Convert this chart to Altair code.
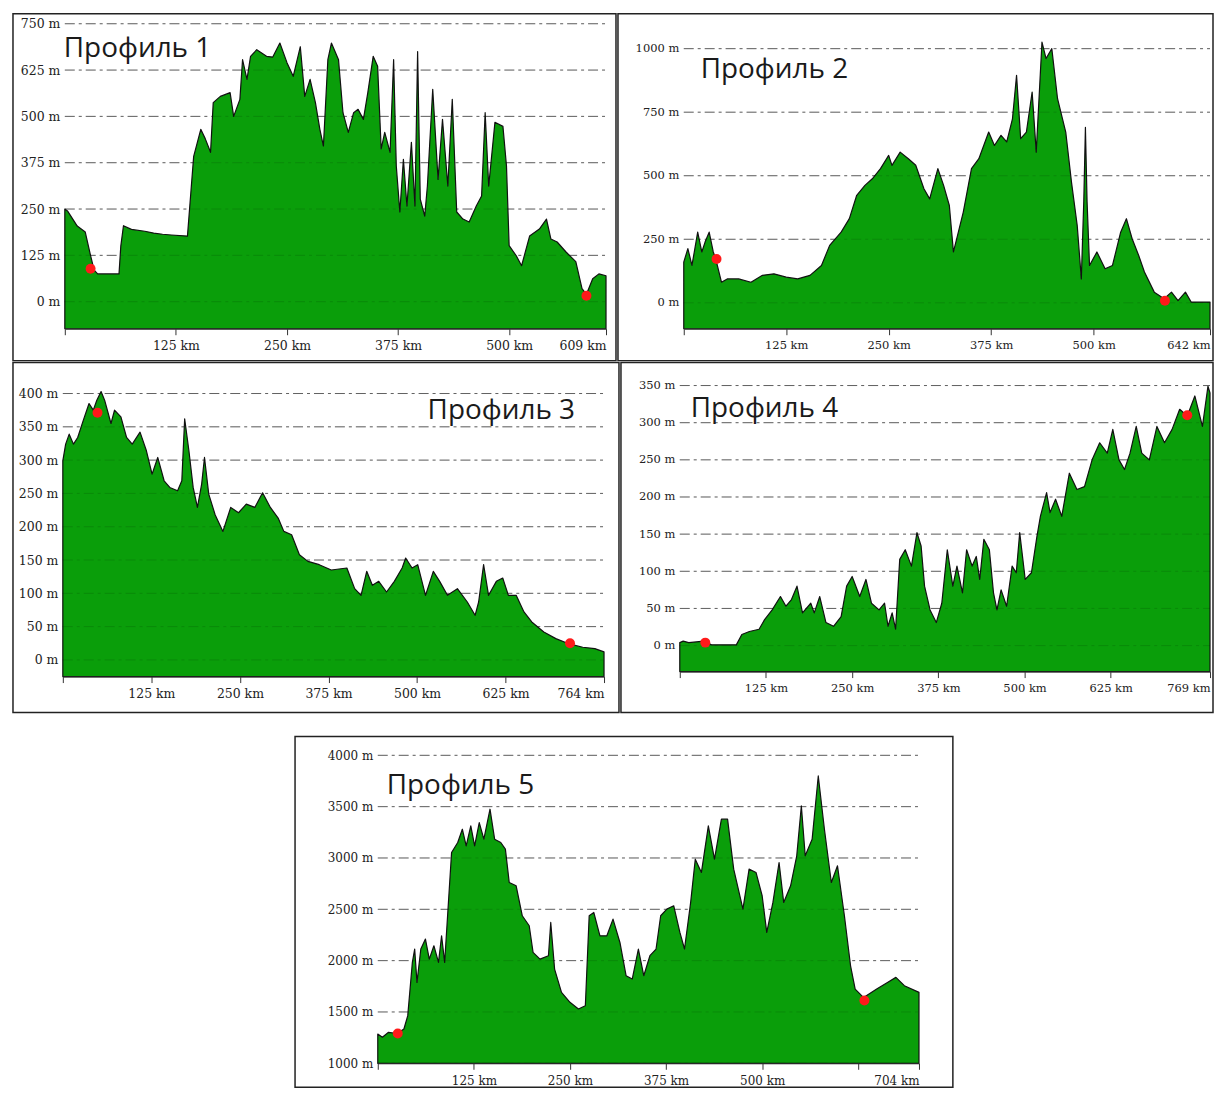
import altair as alt
import pandas as pd

# ---------------- data ----------------
p1_km = [0, 3, 14, 23, 29, 33, 37, 61, 63, 66, 75, 90, 100, 110, 120, 138, 142, 145, 153, 158,
         164, 167, 175, 186, 190, 197, 200, 205, 209, 216, 227, 234, 242, 250, 257, 265, 270, 276,
         282, 287, 291, 296, 300, 308, 313, 319, 325, 330, 336, 341, 347, 352, 356, 360, 366, 370,
         373, 377, 381, 385, 390, 394, 397, 400, 405, 408, 414, 420, 425, 431, 436, 441, 448, 455,
         463, 469, 473, 477, 484, 493, 497, 500, 508, 514, 523, 534, 542, 547, 554, 564, 575, 582,
         587, 594, 601, 609]
p1_m = [250, 245, 204, 188, 124, 85, 75, 75, 150, 205, 195, 190, 185, 182, 180, 177, 300, 392, 465, 440,
        403, 537, 554, 564, 500, 546, 653, 600, 662, 680, 662, 660, 698, 645, 608, 688, 554, 600,
        537, 465, 420, 653, 698, 653, 510, 457, 510, 519, 492, 565, 662, 635, 412, 457, 403, 653,
        366, 242, 384, 258, 430, 258, 675, 277, 231, 312, 573, 330, 492, 312, 546, 242, 223, 215,
        258, 285, 510, 312, 484, 473, 366, 151, 124, 97, 177, 196, 223, 169, 161, 134, 108, 35,
        20, 62, 75, 70]
p1_dot_km = [29, 587]
p1_dot_m = [89, 16]

p2_km = [0, 5, 10, 17, 22, 26, 31, 36, 39, 46, 53, 67, 82, 96, 110, 125, 139, 154, 168, 178, 192,
         202, 211, 221, 230, 240, 250, 254, 264, 274, 283, 293, 300, 310, 317, 324, 329, 334, 341,
         351, 360, 372, 379, 387, 394, 401, 406, 411, 418, 425, 430, 437, 442, 449, 456, 466, 473,
         480, 485, 488, 490, 492, 495, 504, 514, 523, 533, 540, 547, 555, 562, 574, 586, 595, 603,
         612, 619, 642]
p2_m = [160, 213, 147, 278, 200, 239, 278, 200, 173, 81, 94, 94, 81, 108, 114, 101, 94, 108, 147, 226, 278,
        331, 423, 462, 488, 528, 580, 541, 593, 567, 541, 449, 409, 528, 462, 383, 200, 265, 357,
        528, 567, 672, 619, 659, 633, 724, 895, 646, 672, 829, 593, 1026, 961, 1000, 803, 672, 475,
        304, 94, 400, 690, 400, 147, 200, 134, 147, 278, 331, 252, 186, 121, 42, 16, 42, 9,
        42, 3, 3]
p2_dot_km = [40, 587]
p2_dot_m = [172, 8]

p3_km = [0, 4, 9, 15, 21, 29, 37, 43, 48, 54, 59, 68, 73, 82, 90, 98, 109, 118, 126, 134, 143, 151,
         162, 168, 172, 178, 184, 190, 196, 200, 206, 215, 226, 237, 248, 259, 271, 282, 293, 304,
         312, 323, 334, 346, 362, 379, 401, 412, 421, 429, 437, 446, 457, 468, 479, 484, 493, 501,
         512, 523, 532, 543, 557, 571, 582, 587, 594, 601, 612, 621, 629, 640, 651, 662, 679, 696,
         715, 734, 751, 764]
p3_m = [299, 324, 339, 324, 334, 360, 385, 375, 390, 403, 390, 355, 375, 365, 334, 324, 342, 314, 279, 304, 269, 259,
        254, 269, 362, 314, 259, 229, 264, 304, 249, 218, 193, 229, 221, 234, 229, 251, 229, 213,
        193, 188, 158, 148, 143, 135, 138, 107, 97, 133, 112, 118, 102, 118, 138, 153, 138, 143,
        97, 133, 118, 97, 107, 87, 67, 87, 143, 97, 118, 123, 97, 97, 72, 57, 42, 32,
        24, 19, 17, 12]
p3_dot_km = [49, 716]
p3_dot_m = [371, 25]

p4_km = [0, 5, 13, 35, 46, 82, 90, 101, 115, 123, 134, 146, 154, 162, 170, 178, 190, 195, 203, 212,
         223, 234, 242, 250, 261, 270, 278, 289, 297, 302, 308, 313, 319, 327, 336, 344, 350, 355,
         363, 372, 380, 388, 396, 402, 410, 416, 424, 430, 435, 441, 449, 455, 460, 466, 474, 482,
         488, 493, 501, 510, 518, 523, 532, 537, 545, 554, 565, 576, 587, 598, 609, 620, 628, 637,
         645, 653, 662, 670, 681, 692, 703, 714, 725, 736, 747, 758, 766, 769]
p4_m = [4, 6, 4, 6, 1, 1, 15, 19, 22, 35, 48, 66, 53, 62, 80, 44, 57, 44, 66, 31,
        26, 39, 80, 93, 66, 89, 57, 48, 57, 26, 44, 22, 116, 129, 107, 152, 134, 80,
        48, 31, 57, 129, 80, 107, 71, 129, 107, 120, 89, 143, 129, 71, 48, 75, 53, 107,
        98, 152, 89, 98, 147, 174, 206, 179, 197, 174, 232, 210, 214, 250, 273, 259, 291, 250,
        237, 259, 295, 259, 250, 295, 273, 291, 318, 309, 336, 295, 349, 340]
p4_dot_km = [37, 736]
p4_dot_m = [4, 310]

p5_km = [0, 6, 14, 25, 34, 39, 45, 48, 51, 56, 62, 67, 73, 79, 83, 87, 96, 104, 110, 115, 121, 126,
         132, 138, 146, 152, 160, 166, 171, 180, 188, 197, 202, 211, 222, 225, 230, 239, 250, 261,
         270, 275, 281, 289, 298, 306, 315, 323, 331, 339, 346, 354, 362, 368, 376, 385, 393, 399,
         407, 413, 421, 430, 438, 447, 455, 463, 475, 483, 492, 500, 506, 514, 522, 528, 537, 545,
         551, 556, 565, 573, 581, 590, 598, 607, 615, 621, 632, 649, 663, 674, 685, 704]
p5_m = [1285, 1253, 1302, 1290, 1334, 1464, 1983, 2113, 1788, 2113, 2210, 2015, 2145, 1983, 2242, 1983, 3053, 3151, 3280, 3118, 3313, 3118,
        3345, 3183, 3475, 3183, 3151, 3086, 2761, 2729, 2437, 2340, 2080, 2015, 2048, 2372, 1918, 1691, 1594, 1529,
        1561, 2437, 2469, 2242, 2242, 2404, 2177, 1853, 1821, 2113, 1853, 2048, 2113, 2437, 2502, 2534, 2275, 2113,
        2567, 2988, 2859, 3313, 2988, 3378, 3378, 2891, 2502, 2891, 2859, 2632, 2275, 2567, 2956, 2567, 2729, 3021,
        3507, 3021, 3183, 3799, 3280, 2761, 2924, 2437, 1950, 1723, 1640, 1723, 1788, 1837, 1756, 1691]
p5_dot_km = [26, 633]
p5_dot_m = [1291, 1612]

titles = ["Профиль 1", "Профиль 2", "Профиль 3", "Профиль 4", "Профиль 5"]

p1_grid = [0, 125, 250, 375, 500, 625, 750]
p2_grid = [0, 250, 500, 750, 1000]
p3_grid = [0, 50, 100, 150, 200, 250, 300, 350, 400]
p4_grid = [0, 50, 100, 150, 200, 250, 300, 350]
p5_grid = [1000, 1500, 2000, 2500, 3000, 3500, 4000]

p1_xticks = [0, 125, 250, 375, 500, 609]
p2_xticks = [0, 125, 250, 375, 500, 642]
p3_xticks = [0, 125, 250, 375, 500, 625, 764]
p4_xticks = [0, 125, 250, 375, 500, 625, 769]
p5_xticks = [0, 125, 250, 375, 500, 625, 704]

# ---------------- style ----------------
GREEN = "#0a9e0a"
GRID = "#6e6e6e"
DASH = [10, 4, 3, 4]
AXIS_FONT = "DejaVu Serif"
TXT = "#222222"


def panel(km, m, dkm, dm, grid_vals, xticks, hidden, title, box_w, box_h,
          x_range, y_domain, y_range, label_pos, fsize, lpad):
    df = pd.DataFrame({"km": km, "m": m})
    dots = pd.DataFrame({"km": dkm, "m": dm})
    grid = pd.DataFrame({"m": grid_vals, "km": [0] * len(grid_vals),
                         "km_end": [km[-1]] * len(grid_vals)})
    xs = alt.Scale(domain=[0, km[-1]], range=x_range, nice=False, zero=False)
    ys = alt.Scale(domain=y_domain, range=y_range, nice=False, zero=False)
    hid = " || ".join(f"datum.value == {h}" for h in hidden)
    xaxis = alt.Axis(values=xticks, labelExpr=f"({hid}) ? '' : datum.value + ' km'",
                     offset=-(box_h - y_range[0]), grid=False, domainColor="#333333",
                     tickColor="#333333", tickSize=6, labelPadding=lpad, labelFont=AXIS_FONT,
                     labelFontSize=fsize, labelColor=TXT, labelFlush=True, labelOverlap=False,
                     title=None, zindex=1)
    yaxis = alt.Axis(values=grid_vals, labelExpr="datum.value + ' m'", offset=-x_range[0],
                     grid=False, domain=False, ticks=False, labelPadding=5, labelFont=AXIS_FONT,
                     labelFontSize=fsize, labelColor=TXT, labelOverlap=False, title=None)
    X = alt.X("km:Q", scale=xs, axis=xaxis)
    Y = alt.Y("m:Q", scale=ys, axis=yaxis)

    grid_under = alt.Chart(grid).mark_rule(color=GRID, strokeDash=DASH, strokeWidth=1).encode(
        x=X, x2="km_end", y=Y)
    area = alt.Chart(df).mark_area(fill=GREEN, stroke="#111111", strokeWidth=1.2,
                                   strokeJoin="round", opacity=1).encode(
        x=X, y=Y, y2=alt.datum(y_domain[0]))
    grid_over = alt.Chart(grid).mark_rule(color="#000000", strokeDash=DASH, strokeWidth=1,
                                          opacity=0.13).encode(x=X, x2="km_end", y=Y)
    pts = alt.Chart(dots).mark_circle(color="#ff1a1a", size=100, opacity=1).encode(x=X, y=Y)
    lab = alt.Chart(pd.DataFrame({"t": [title]})).mark_text(
        font="Open Sans", fontSize=28, align="left", baseline="alphabetic", color="#1a1a1a").encode(
        x=alt.value(label_pos[0]), y=alt.value(label_pos[1]), text="t:N")
    return alt.layer(grid_under, area, grid_over, pts, lab).properties(width=box_w, height=box_h)


c1 = panel(p1_km, p1_m, p1_dot_km, p1_dot_m, p1_grid, p1_xticks, [0], titles[0], 605, 348,
           [52, 595], [-73, 750], [316, 10], (51, 43), 12.5, 5)
c2 = panel(p2_km, p2_m, p2_dot_km, p2_dot_m, p2_grid, p2_xticks, [0], titles[1], 597, 348,
           [66, 594], [-102, 1000], [316, 35], (83, 64), 11.5, 5)
c3 = panel(p3_km, p3_m, p3_dot_km, p3_dot_m, p3_grid, p3_xticks, [0], titles[2], 608, 351,
           [50, 593], [-25, 400], [315, 31], (416, 57), 12.5, 5)
c4 = panel(p4_km, p4_m, p4_dot_km, p4_dot_m, p4_grid, p4_xticks, [0], titles[3], 594, 351,
           [59, 591], [-35, 350], [310, 23], (70, 55), 11.5, 5)
c5 = panel(p5_km, p5_m, p5_dot_km, p5_dot_m, p5_grid, p5_xticks, [0, 625], titles[4], 660, 352,
           [83, 626], [1000, 4000], [328, 19], (92, 58), 12, 6)

spacer = alt.Chart(pd.DataFrame({"a": [0]})).mark_point(opacity=0).encode(
    x=alt.value(0), y=alt.value(0)).properties(
    width=281, height=10, view=alt.ViewBackground(stroke="transparent"))

top = alt.vconcat(alt.hconcat(c1, c2, spacing=0), alt.hconcat(c3, c4, spacing=0), spacing=0)
bottom = alt.hconcat(spacer, c5, spacing=0)

chart = alt.vconcat(top, bottom, spacing=19).properties(
    padding={"left": 1, "top": 3, "right": 0, "bottom": 0},
    background="white",
).configure_view(stroke="#222222", strokeWidth=1.5)

chart.save("out.html", embed_options={"renderer": "svg", "actions": False})
